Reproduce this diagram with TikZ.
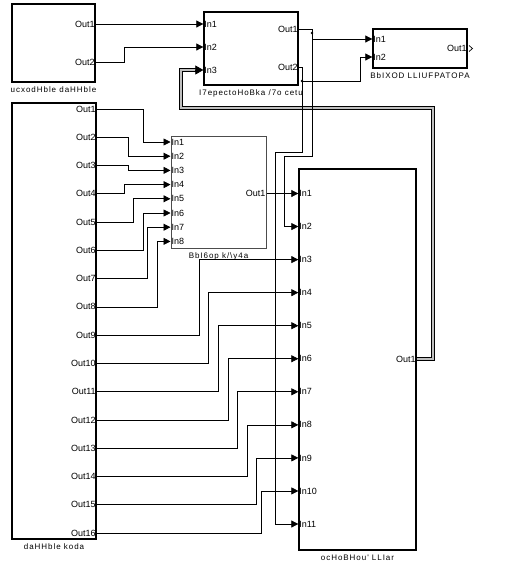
\documentclass[tikz,border=0pt]{standalone}
\usepackage{fontspec}
\setmainfont{Liberation Sans}
\newfontfamily\capfont[LetterSpace=12]{Liberation Sans}
\usetikzlibrary{arrows.meta,positioning}

\begin{document}
\begin{tikzpicture}[x=1pt,y=-1pt,
    blk/.style={draw, line width=1.3pt, inner sep=0pt, fill=white},
    portin/.style={anchor=west, inner sep=1pt, outer sep=0pt, font=\fontsize{9}{10}\selectfont},
    portout/.style={anchor=east, inner sep=1pt, outer sep=0pt, font=\fontsize{9}{10}\selectfont},
    blkcap/.style={inner sep=1pt, font=\capfont\fontsize{8}{9}\selectfont},
    wire/.style={line width=0.7pt},
    sig/.style={wire, -{Triangle[length=7pt,width=7pt]}},
    bus/.style={line width=0.8pt, double=gray!50, double distance=1.6pt}]

\useasboundingbox (0,0) rectangle (519,568);

% blocks
\node[blk, minimum width=83, minimum height=78] (src) at (53.5,43) {};
\node[blk, minimum width=94, minimum height=73] (net) at (251,48.5) {};
\node[blk, minimum width=94, minimum height=39] (enc) at (420,48.5) {};
\node[blk, minimum width=84, minimum height=436] (code) at (54,321) {};
\node[blk, minimum width=95, minimum height=112, draw=black!70, line width=1pt] (key) at (218.5,192) {};
\node[blk, minimum width=117, minimum height=381] (rnd) at (357.5,359.5) {};

\node[blkcap, below=3pt of src] (src-cap) {ucxodHble daHHble};
\node[blkcap, below=3pt of net] (net-cap) {I7epectoHoBka /7o cetu};
\node[blkcap, below=3pt of enc] (enc-cap) {BbIXOD LLIUFPATOPA};
\node[blkcap, below=3pt of code] (code-cap) {daHHble koda};
\node[blkcap, below=3pt of key] (key-cap) {BbI6op k/\textbackslash y4a};
\node[blkcap, below=3pt of rnd] (rnd-cap) {ocHoBHou' LLIar};

% ports
\node[portout] (a-o1) at (src.east |- 0,24) {Out1};
\node[portout] (a-o2) at (src.east |- 0,62) {Out2};
\node[portin] (b-i1) at (net.west |- 0,24) {In1};
\node[portin] (b-i2) at (net.west |- 0,47) {In2};
\node[portin] (b-i3) at (net.west |- 0,70) {In3};
\node[portout] (b-o1) at (net.east |- 0,29) {Out1};
\node[portout] (b-o2) at (net.east |- 0,67) {Out2};
\node[portin] (c-i1) at (enc.west |- 0,39) {In1};
\node[portin] (c-i2) at (enc.west |- 0,57) {In2};
\node[portout] (c-o1) at (enc.east |- 0,48) {Out1};
\foreach \i [evaluate=\i as \yy using 109+(\i-1)*28.27] in {1,...,16}
  \node[portout] (d-o\i) at (code.east |- 0,\yy) {Out\i};
\foreach \i [evaluate=\i as \yy using 142+(\i-1)*14.2] in {1,...,8}
  \node[portin] (e-i\i) at (key.west |- 0,\yy) {In\i};
\node[portout] (e-o1) at (key.east |- 0,193.5) {Out1};
\foreach \i [evaluate=\i as \yy using 193.5+(\i-1)*33.05] in {1,...,11}
  \node[portin] (f-i\i) at (rnd.west |- 0,\yy) {In\i};
\node[portout] (f-o1) at (rnd.east |- 0,359) {Out1};

% free output
\draw[wire] (469,45.5) -- (472.5,48.5) -- (469,51.5);

% lines
\draw[sig] (a-o1.east) -- (b-i1.west);
\draw[sig] (a-o2.east) -| (124,0 |- b-i2.west) -- (b-i2.west);

\draw[bus] (f-o1.east) -| (433,108) -| (181,0 |- b-i3.west) -- ([xshift=-5pt]b-i3.west);
\draw[wire, -{Triangle[length=8pt,width=9pt]}] ([xshift=-8pt]b-i3.west) -- (b-i3.west);

\coordinate (jt1) at (312,33);
\coordinate (jt2) at (302,81);
\draw[wire] (b-o1.east) -| (jt1);
\draw[sig] (jt1) |- (c-i1.west);
\draw[sig] (jt1) |- (284,156) |- (f-i2.west);
\draw[wire] (b-o2.east) -| (jt2);
\draw[sig] (jt2) -| (360,0 |- c-i2.west) -- (c-i2.west);
\draw[sig] (jt2) |- (275,152) |- (f-i11.west);
\fill (jt1) circle (1.4pt);
\fill (jt2) circle (1.4pt);

\draw[sig] (e-o1.east) -- (f-i1.west);

\foreach \i/\x in {1/143,2/128,3/128,4/124,5/133,6/143,7/147,8/157}
  \draw[sig] (d-o\i.east) -| (\x,0 |- e-i\i.west) -- (e-i\i.west);
\foreach \i/\j/\x in {9/3/199,10/4/208,11/5/218,12/6/228,13/7/237,14/8/247,15/9/256,16/10/261}
  \draw[sig] (d-o\i.east) -| (\x,0 |- f-i\j.west) -- (f-i\j.west);
\end{tikzpicture}
\end{document}
